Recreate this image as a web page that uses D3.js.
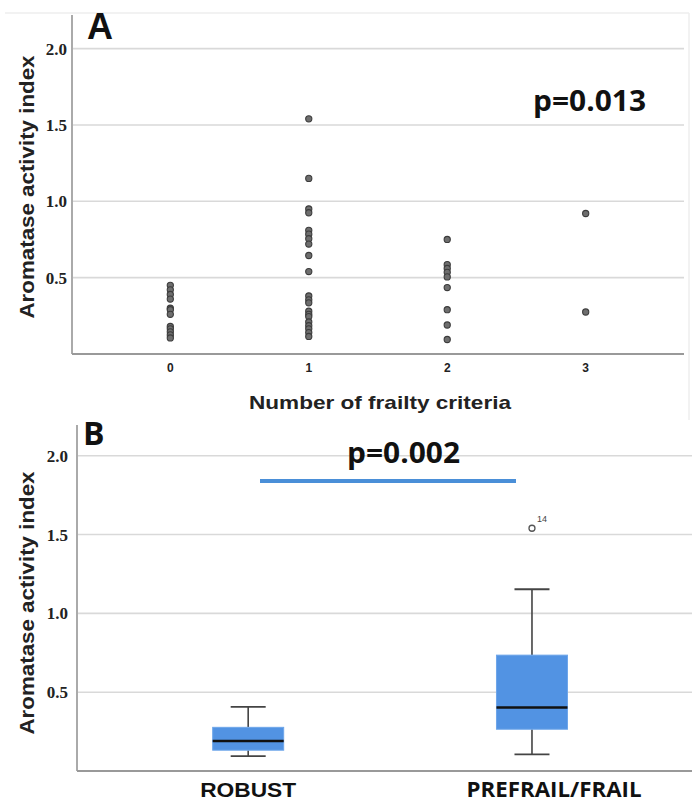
<!DOCTYPE html>
<html>
<head>
<meta charset="utf-8">
<script src="https://cdn.jsdelivr.net/npm/d3@7"></script>
<style>
  body { margin: 0; background: #fff; }
  svg { display: block; }
</style>
</head>
<body>
<svg id="chart" width="692" height="802"></svg>
<script>
// panel A: aromatase index by number of frailty criteria
var criteria = [0, 1, 2, 3];
var pointsCrit0 = [0.45, 0.42, 0.39, 0.36, 0.30, 0.29, 0.26, 0.18, 0.165, 0.145, 0.125, 0.105];
var pointsCrit1 = [1.54, 1.15, 0.95, 0.925, 0.81, 0.785, 0.755, 0.72, 0.645, 0.54, 0.38, 0.355, 0.335,
                   0.28, 0.26, 0.245, 0.21, 0.185, 0.165, 0.14, 0.115];
var pointsCrit2 = [0.75, 0.585, 0.56, 0.535, 0.505, 0.435, 0.29, 0.19, 0.095];
var pointsCrit3 = [0.92, 0.275];
var yTicks = [0.5, 1.0, 1.5, 2.0];

// panel B: box plot summary per group
var groups = ['ROBUST', 'PREFRAIL/FRAIL'];
var whiskerLow = [0.095, 0.105];
var q1 = [0.132, 0.265];
var median = [0.19, 0.403];
var q3 = [0.277, 0.735];
var whiskerHigh = [0.407, 1.153];
var outliers = [[], [{v: 1.54, label: '14'}]];
var sigLevel = 1.84;

var svg = d3.select('#chart');
var boldSans = '"Liberation Sans", Arial, sans-serif',
    calibriLike = '"Open Sans", sans-serif',
    tickSerif = '"Liberation Serif", "Times New Roman", serif';

function yAxisTicks(g, y, x0, x1, labelX) {
  g.selectAll('line.grid').data(yTicks).enter().append('line')
    .attr('x1', x0).attr('x2', x1)
    .attr('y1', d => y(d)).attr('y2', d => y(d))
    .attr('stroke', '#d9d9d9').attr('stroke-width', 1.6);
  g.selectAll('text.ytick').data(yTicks).enter().append('text')
    .attr('x', labelX).attr('y', d => y(d))
    .attr('dy', '0.35em')
    .attr('text-anchor', 'end')
    .attr('font-family', tickSerif).attr('font-weight', 'bold').attr('font-size', 17)
    .attr('fill', '#222')
    .text(d3.format('.1f'));
}

// ---------- panel A ----------
var gA = svg.append('g');
var yA = d3.scaleLinear().domain([0, 2.22]).range([354, 15]);
var xA = d3.scalePoint().domain(criteria).range([72, 684]).padding(0.71);

// faint frame
gA.append('line').attr('x1', 5).attr('x2', 689).attr('y1', 13).attr('y2', 13)
  .attr('stroke', '#eee').attr('stroke-width', 1.5);
gA.append('line').attr('x1', 689).attr('x2', 689).attr('y1', 13).attr('y2', 420)
  .attr('stroke', '#eee').attr('stroke-width', 1.5);

yAxisTicks(gA, yA, 72, 684, 67);
gA.append('line').attr('x1', 72).attr('x2', 72).attr('y1', 15).attr('y2', 354)
  .attr('stroke', '#aaa').attr('stroke-width', 2);
gA.append('line').attr('x1', 72).attr('x2', 684).attr('y1', 354).attr('y2', 354)
  .attr('stroke', '#999').attr('stroke-width', 2);

gA.selectAll('text.xtick').data(criteria).enter().append('text')
  .attr('x', d => xA(d)).attr('y', 372)
  .attr('text-anchor', 'middle')
  .attr('font-family', boldSans).attr('font-weight', 'bold').attr('font-size', 12)
  .attr('fill', '#222')
  .text(d => d);

var allPoints = [pointsCrit0, pointsCrit1, pointsCrit2, pointsCrit3];
allPoints.forEach(function (vals, i) {
  gA.selectAll(null).data(vals).enter().append('circle')
    .attr('cx', xA(criteria[i])).attr('cy', d => yA(d))
    .attr('r', 3.1)
    .attr('fill', '#6e6e6e').attr('stroke', '#3c3c3c').attr('stroke-width', 1.1);
});

gA.append('text').attr('x', 87).attr('y', 39)
  .attr('font-family', boldSans).attr('font-weight', 'bold').attr('font-size', 36)
  .attr('fill', '#111').text('A');
gA.append('text').attr('x', 533).attr('y', 111)
  .attr('font-family', calibriLike).attr('font-weight', 'bold').attr('font-size', 29)
  .attr('textLength', 113).attr('lengthAdjust', 'spacingAndGlyphs')
  .attr('fill', '#111').text('p=0.013');

gA.append('text').attr('x', 380).attr('y', 409)
  .attr('text-anchor', 'middle')
  .attr('font-family', boldSans).attr('font-weight', 'bold').attr('font-size', 19)
  .attr('textLength', 262).attr('lengthAdjust', 'spacingAndGlyphs')
  .attr('fill', '#222').text('Number of frailty criteria');
gA.append('text')
  .attr('transform', 'translate(34,187) rotate(-90)')
  .attr('text-anchor', 'middle')
  .attr('font-family', boldSans).attr('font-weight', 'bold').attr('font-size', 20)
  .attr('textLength', 263).attr('lengthAdjust', 'spacingAndGlyphs')
  .attr('fill', '#222').text('Aromatase activity index');

// ---------- panel B ----------
var gB = svg.append('g');
var yB = d3.scaleLinear().domain([0, 2.195]).range([771, 425]);
var xB = d3.scalePoint().domain(groups).range([77, 690]).padding(0.58).align(0.52);
var boxW = 71, capW = 35;

yAxisTicks(gB, yB, 77, 692, 68);
gB.append('line').attr('x1', 77).attr('x2', 77).attr('y1', 425).attr('y2', 771)
  .attr('stroke', '#aaa').attr('stroke-width', 2);
gB.append('line').attr('x1', 77).attr('x2', 692).attr('y1', 771).attr('y2', 771)
  .attr('stroke', '#999').attr('stroke-width', 2);

groups.forEach(function (name, i) {
  var cx = xB(name),
      box = gB.append('g');
  // whisker stems + caps
  [[whiskerLow[i], q1[i]], [q3[i], whiskerHigh[i]]].forEach(function (seg) {
    box.append('line').attr('x1', cx).attr('x2', cx)
      .attr('y1', yB(seg[0])).attr('y2', yB(seg[1]))
      .attr('stroke', '#444').attr('stroke-width', 1.6);
  });
  [whiskerLow[i], whiskerHigh[i]].forEach(function (v) {
    box.append('line').attr('x1', cx - capW / 2).attr('x2', cx + capW / 2)
      .attr('y1', yB(v)).attr('y2', yB(v))
      .attr('stroke', '#444').attr('stroke-width', 1.8);
  });
  box.append('rect')
    .attr('x', cx - boxW / 2).attr('width', boxW)
    .attr('y', yB(q3[i])).attr('height', yB(q1[i]) - yB(q3[i]))
    .attr('fill', '#5293e3').attr('stroke', '#6ea6ea').attr('stroke-width', 1);
  box.append('line').attr('x1', cx - boxW / 2).attr('x2', cx + boxW / 2)
    .attr('y1', yB(median[i])).attr('y2', yB(median[i]))
    .attr('stroke', '#111').attr('stroke-width', 2.6);
  outliers[i].forEach(function (o) {
    box.append('circle').attr('cx', cx).attr('cy', yB(o.v)).attr('r', 3)
      .attr('fill', '#fff').attr('stroke', '#555').attr('stroke-width', 1.3);
    box.append('text').attr('x', cx + 5).attr('y', yB(o.v) - 6)
      .attr('font-family', boldSans).attr('font-size', 9).attr('fill', '#444')
      .text(o.label);
  });
});

// significance bar
gB.append('line').attr('x1', 260).attr('x2', 516)
  .attr('y1', yB(sigLevel)).attr('y2', yB(sigLevel))
  .attr('stroke', '#4a8fd8').attr('stroke-width', 4);
gB.append('text').attr('x', 347).attr('y', 463)
  .attr('font-family', calibriLike).attr('font-weight', 'bold').attr('font-size', 29)
  .attr('textLength', 113).attr('lengthAdjust', 'spacingAndGlyphs')
  .attr('fill', '#111').text('p=0.002');

gB.append('text').attr('x', 83).attr('y', 445)
  .attr('font-family', calibriLike).attr('font-weight', 'bold').attr('font-size', 32)
  .attr('fill', '#111').text('B');

gB.append('text').attr('x', xB('ROBUST')).attr('y', 797)
  .attr('text-anchor', 'middle')
  .attr('font-family', boldSans).attr('font-weight', 'bold').attr('font-size', 20)
  .attr('textLength', 96).attr('lengthAdjust', 'spacingAndGlyphs')
  .attr('fill', '#111').text('ROBUST');
gB.append('text').attr('x', 554).attr('y', 797)
  .attr('text-anchor', 'middle')
  .attr('font-family', calibriLike).attr('font-weight', 'bold').attr('font-size', 21)
  .attr('textLength', 175).attr('lengthAdjust', 'spacingAndGlyphs')
  .attr('fill', '#111').text('PREFRAIL/FRAIL');
gB.append('text')
  .attr('transform', 'translate(34,603) rotate(-90)')
  .attr('text-anchor', 'middle')
  .attr('font-family', boldSans).attr('font-weight', 'bold').attr('font-size', 20)
  .attr('textLength', 263).attr('lengthAdjust', 'spacingAndGlyphs')
  .attr('fill', '#222').text('Aromatase activity index');
</script>
</body>
</html>
